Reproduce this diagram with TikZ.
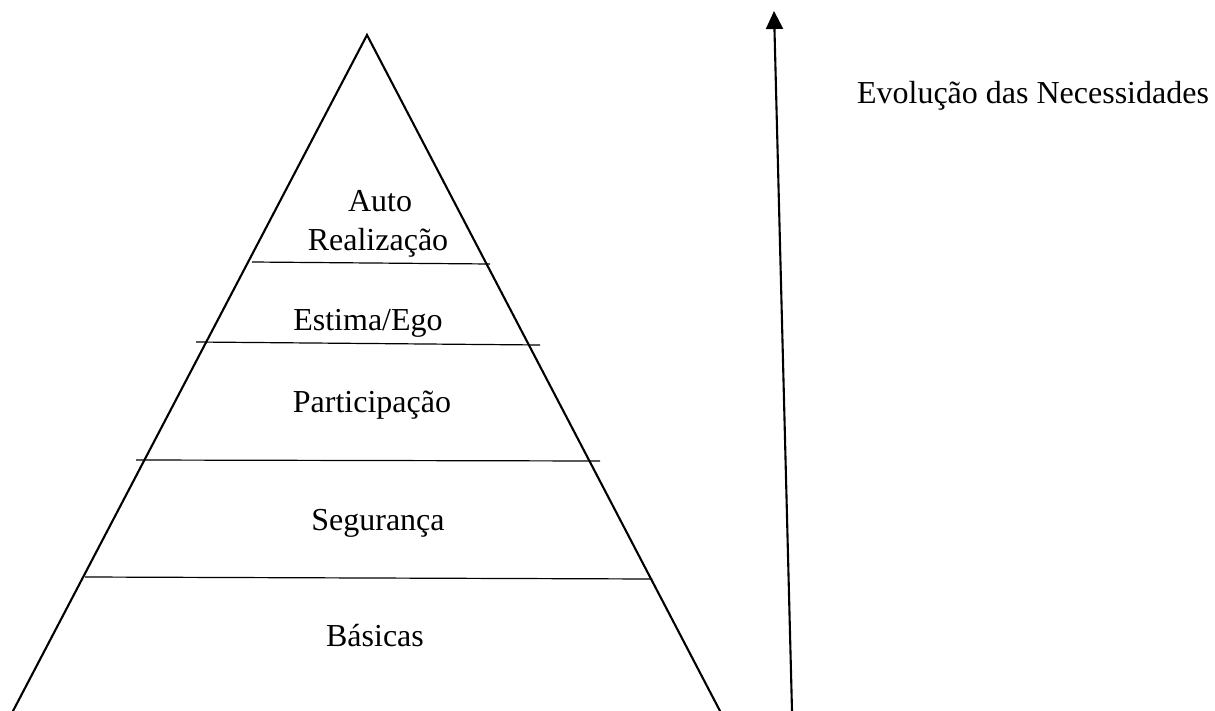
\documentclass[tikz,border=0pt]{standalone}
\usepackage{fontspec}
\setmainfont{Liberation Serif}
\usetikzlibrary{arrows.meta}
\tikzset{
  leg/.style={line width=2.1pt, line cap=round},
  level/.style={line width=1.2pt},
  lbl/.style={font=\fontsize{32}{39}\selectfont, anchor=base, inner sep=0pt},
  evo/.style={line width=2.1pt, -{Triangle[length=18pt,width=17pt]}}
}
\begin{document}
\begin{tikzpicture}[x=1pt,y=-1pt]
\useasboundingbox (0,0) rectangle (1215,711);
\coordinate (apex) at (367,35);
\coordinate (bl) at (13,711);
\coordinate (br) at (720,711);
\draw[leg] (bl) -- (apex) -- (br);
% level lines
\draw[level] (252,262) -- (490,264);
\draw[level] (196,342) -- (540,345);
\draw[level] (136,460) -- (600,461);
\draw[level] (85,577) -- (652,579);
% labels
\node[lbl] (auto) at (380,212) {Auto};
\node[lbl] (real) at (378,251) {Realização};
\node[lbl] (est) at (368,330) {Estima/Ego};
\node[lbl] (part) at (372,412) {Participação};
\node[lbl] (seg) at (378,530) {Segurança};
\node[lbl] (bas) at (375,646) {Básicas};
% arrow
\coordinate (abot) at (792,711);
\coordinate (atop) at (774,11);
\draw[evo] (abot) -- (atop);
\node[lbl] (evol) at (1033,104) {Evolução das Necessidades};
\end{tikzpicture}
\end{document}
